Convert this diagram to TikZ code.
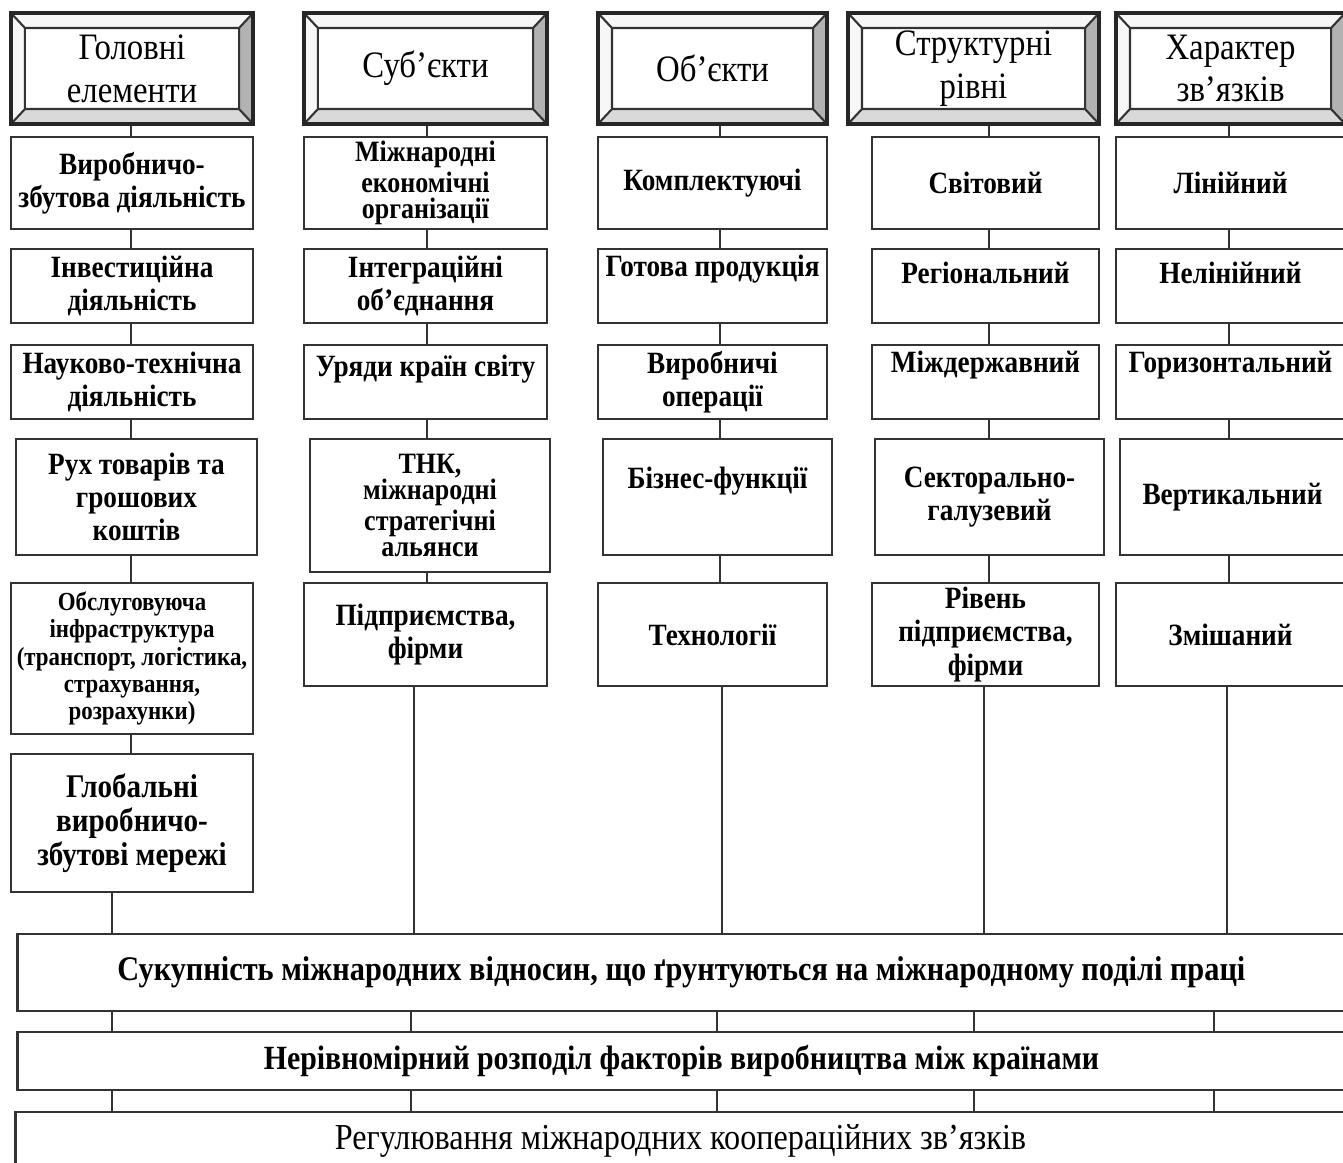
\documentclass[tikz,border=0pt]{standalone}
\usepackage{fontspec}
\setmainfont{Liberation Serif}[FakeStretch=0.88]
\usetikzlibrary{calc}

\begin{document}
\begin{tikzpicture}[x=0.01cm, y=-0.01cm,
  box/.style={draw=black!80, line width=0.8pt, align=center, inner sep=1pt,
              font=\bfseries\fontsize{8.8}{9.4}\selectfont},
  tight/.style={font=\bfseries\fontsize{8.4}{7.5}\selectfont},
  small/.style={font=\bfseries\fontsize{7.4}{7.7}\selectfont},
  up/.style={text depth=#1},
  wide/.style={box, minimum width=13.27cm, font=\bfseries\fontsize{9.8}{12}\selectfont},
  link/.style={draw=black!80, line width=0.7pt},
  hdr/.style={draw=black!85, line width=1pt, minimum height=1.11cm, align=center,
    font=\fontsize{10.6}{12.2}\selectfont,
    path picture={
      \path (path picture bounding box.south west) coordinate (pA)
            (path picture bounding box.north east) coordinate (pC);
      \coordinate (pB) at (pA -| pC);
      \coordinate (pD) at (pA |- pC);
      \coordinate (qA) at ([shift={(0.14cm,0.15cm)}]pA);
      \coordinate (qC) at ([shift={(-0.14cm,-0.15cm)}]pC);
      \coordinate (qB) at (qA -| qC);
      \coordinate (qD) at (qA |- qC);
      \fill[gray!6] (pD) -- (pC) -- (qC) -- (qD) -- cycle;
      \fill[gray!6] (pA) -- (pD) -- (qD) -- (qA) -- cycle;
      \fill[gray!30] (pA) -- (pB) -- (qB) -- (qA) -- cycle;
      \fill[gray!60] (pB) -- (pC) -- (qC) -- (qB) -- cycle;
      \draw[line width=0.6pt, black!80] (qA) rectangle (qC)
        (pA) -- (qA) (pB) -- (qB) (pC) -- (qC) (pD) -- (qD);
    }}]
\useasboundingbox (0,0) rectangle (1343,1162);
\clip (0,0) rectangle (1343,1162);

% headers
\node[hdr, minimum width=2.42cm] (h1) at (132,68.5) {Головні\\елементи};
\node[hdr, minimum width=2.43cm] (h2) at (425.5,68.5) {Суб’єкти};
\node[hdr, minimum width=2.29cm] (h3) at (712.5,68.5) {Об’єкти};
\node[hdr, minimum width=2.51cm] (h4) at (973.5,68.5) {Структурні\\рівні};
\node[hdr, minimum width=2.29cm] (h5) at (1230.5,68.5) {Характер\\зв’язків};

% column 1
\node[box, minimum width=2.42cm, minimum height=0.92cm] (a1) at (132,183) {Виробничо-\\збутова діяльність};
\node[box, minimum width=2.42cm, minimum height=0.74cm] (a2) at (132,286) {Інвестиційна\\діяльність};
\node[box, minimum width=2.42cm, minimum height=0.74cm] (a3) at (132,382) {Науково-технічна\\діяльність};
\node[box, minimum width=2.41cm, minimum height=1.16cm] (a4) at (136.5,497) {Рух товарів та\\грошових\\коштів};
\node[box, small, minimum width=2.42cm, minimum height=1.51cm] (a5) at (132,658.5)
  {Обслуговуюча\\інфраструктура\\(транспорт, логістика,\\страхування,\\розрахунки)};
\node[box, minimum width=2.42cm, minimum height=1.38cm, font=\bfseries\fontsize{9.4}{9.6}\selectfont] (a6) at (132,823)
  {Глобальні\\виробничо-\\збутові мережі};

% column 2
\node[box, tight, minimum width=2.43cm, minimum height=0.92cm] (b1) at (425.5,183) {Міжнародні\\економічні\\організації};
\node[box, minimum width=2.43cm, minimum height=0.74cm] (b2) at (425.5,286) {Інтеграційні\\об’єднання};
\node[box, up=0.33cm, minimum width=2.43cm, minimum height=0.74cm] (b3) at (425.5,382) {Уряди країн світу};
\node[box, tight, minimum width=2.40cm, minimum height=1.33cm] (b4) at (430,505.5) {ТНК,\\міжнародні\\стратегічні\\альянси};
\node[box, minimum width=2.43cm, minimum height=1.03cm] (b5) at (425.5,634.5) {Підприємства,\\фірми};

% column 3
\node[box, minimum width=2.29cm, minimum height=0.92cm] (c1) at (712.5,183) {Комплектуючі};
\node[box, up=0.4cm, minimum width=2.29cm, minimum height=0.74cm] (c2) at (712.5,286) {Готова продукція};
\node[box, minimum width=2.29cm, minimum height=0.74cm] (c3) at (712.5,382) {Виробничі\\операції};
\node[box, up=0.38cm, minimum width=2.29cm, minimum height=1.16cm] (c4) at (717.5,497) {Бізнес-функції};
\node[box, minimum width=2.29cm, minimum height=1.03cm] (c5) at (712.5,634.5) {Технології};

% column 4
\node[box, minimum width=2.27cm, minimum height=0.92cm] (d1) at (985.5,183) {Світовий};
\node[box, up=0.27cm, minimum width=2.27cm, minimum height=0.74cm] (d2) at (985.5,286) {Регіональний};
\node[box, up=0.4cm, minimum width=2.27cm, minimum height=0.74cm] (d3) at (985.5,382) {Міждержавний};
\node[box, minimum width=2.29cm, minimum height=1.16cm] (d4) at (989.5,497) {Секторально-\\галузевий};
\node[box, minimum width=2.27cm, minimum height=1.03cm] (d5) at (985.5,634.5) {Рівень\\підприємства,\\фірми};

% column 5
\node[box, minimum width=2.29cm, minimum height=0.92cm] (e1) at (1230.5,183) {Лінійний};
\node[box, up=0.27cm, minimum width=2.29cm, minimum height=0.74cm] (e2) at (1230.5,286) {Нелінійний};
\node[box, up=0.4cm, minimum width=2.29cm, minimum height=0.74cm] (e3) at (1230.5,382) {Горизонтальний};
\node[box, minimum width=2.25cm, minimum height=1.16cm] (e4) at (1232.5,497) {Вертикальний};
\node[box, minimum width=2.29cm, minimum height=1.03cm] (e5) at (1230.5,634.5) {Змішаний};

% common base
\node[wide, minimum height=0.77cm] (s1) at (681.5,972.5) {Сукупність міжнародних відносин, що ґрунтуються на міжнародному поділі праці};
\node[wide, minimum height=0.58cm, font=\bfseries\fontsize{9.65}{12}\selectfont] (s2) at (681.5,1061) {Нерівномірний розподіл факторів виробництва між країнами};
\node[wide, minimum height=0.58cm, minimum width=13.29cm, font=\fontsize{10.4}{12}\selectfont] (s3) at (680.5,1141) {Регулювання міжнародних коопераційних зв’язків};

% column lines
\path (131,0) coordinate (k1) (427,0) coordinate (k2) (720,0) coordinate (k3)
      (989,0) coordinate (k4) (1229,0) coordinate (k5);
\foreach \k/\u/\v in {k1/h1/a1, k1/a1/a2, k1/a2/a3, k1/a3/a4, k1/a4/a5, k1/a5/a6,
                      k2/h2/b1, k2/b1/b2, k2/b2/b3, k2/b3/b4, k2/b4/b5,
                      k3/h3/c1, k3/c1/c2, k3/c2/c3, k3/c3/c4, k3/c4/c5,
                      k4/h4/d1, k4/d1/d2, k4/d2/d3, k4/d3/d4, k4/d4/d5,
                      k5/h5/e1, k5/e1/e2, k5/e2/e3, k5/e3/e4, k5/e4/e5}
  \draw[link] (\k |- \u.south) -- (\k |- \v.north);

% into the base
\path (112,0) coordinate (m1) (414,0) coordinate (m2) (722,0) coordinate (m3)
      (984,0) coordinate (m4) (1227,0) coordinate (m5);
\foreach \m/\u in {m1/a6, m2/b5, m3/c5, m4/d5, m5/e5}
  \draw[link] (\m |- \u.south) -- (\m |- s1.north);

\path (112,0) coordinate (n1) (411,0) coordinate (n2) (717,0) coordinate (n3)
      (974,0) coordinate (n4) (1214,0) coordinate (n5);
\foreach \n in {n1,n2,n3,n4,n5} {
  \draw[link] (\n |- s1.south) -- (\n |- s2.north);
  \draw[link] (\n |- s2.south) -- (\n |- s3.north);
}
\end{tikzpicture}
\end{document}
